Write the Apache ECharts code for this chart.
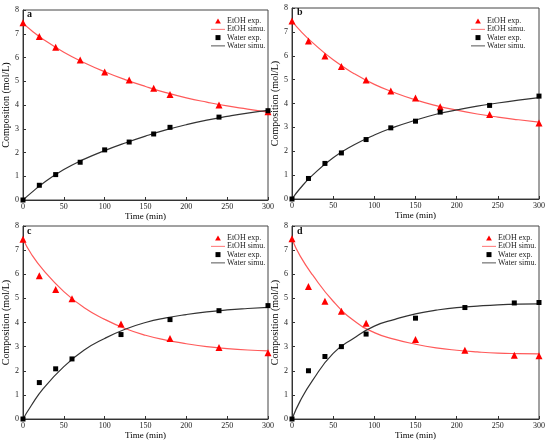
<!DOCTYPE html>
<html>
<head>
<meta charset="utf-8">
<script src="https://cdn.jsdelivr.net/npm/echarts@6/dist/echarts.min.js"></script>
<style>
  html, body { margin: 0; padding: 0; background: #fff; }
  #main { width: 550px; height: 446px; }
</style>
</head>
<body>
<div id="main"></div>
<script>
// experimental sampling times per panel
const timeA = [0, 20, 40, 70, 100, 130, 160, 180, 240, 300];
const timeB = [0, 20, 40, 60, 90, 120, 150, 180, 240, 300];
const timeC = [0, 20, 40, 60, 120, 180, 240, 300];
const timeD = [0, 20, 40, 60, 90, 150, 210, 270, 300];

// experimental points (mol/L)
const etohExpA = [7.46, 6.88, 6.43, 5.9, 5.39, 5.05, 4.71, 4.44, 4.0, 3.72];
const waterExpA = [0, 0.62, 1.07, 1.59, 2.11, 2.44, 2.78, 3.06, 3.49, 3.76];
const etohExpB = [7.46, 6.62, 5.99, 5.55, 4.98, 4.52, 4.23, 3.86, 3.54, 3.18];
const waterExpB = [0, 0.86, 1.49, 1.93, 2.49, 2.98, 3.26, 3.64, 3.92, 4.31];
const etohExpC = [7.45, 5.94, 5.37, 4.98, 3.94, 3.34, 2.96, 2.75];
const waterExpC = [0, 1.51, 2.08, 2.49, 3.5, 4.12, 4.49, 4.7];
const etohExpD = [7.47, 5.49, 4.88, 4.47, 3.97, 3.3, 2.85, 2.64, 2.62];
const waterExpD = [0, 2.0, 2.59, 3.0, 3.52, 4.18, 4.62, 4.81, 4.83];

// simulated curves
const simTime = [0, 10, 25, 50, 75, 100, 125, 150, 175, 200, 225, 250, 275, 300];
const etohSimA = [7.45, 7.15, 6.76, 6.22, 5.78, 5.4, 5.07, 4.78, 4.52, 4.3, 4.12, 3.96, 3.83, 3.7];
const waterSimA = [0, 0.3, 0.72, 1.28, 1.72, 2.08, 2.4, 2.69, 2.95, 3.17, 3.36, 3.52, 3.66, 3.77];
const etohSimB = [7.45, 7.05, 6.55, 5.83, 5.26, 4.8, 4.45, 4.15, 3.91, 3.72, 3.56, 3.43, 3.32, 3.22];
const waterSimB = [0, 0.45, 1.0, 1.73, 2.26, 2.68, 3.02, 3.3, 3.55, 3.73, 3.89, 4.02, 4.14, 4.25];
const etohSimC = [7.45, 6.85, 6.17, 5.28, 4.61, 4.13, 3.75, 3.47, 3.27, 3.12, 3.0, 2.92, 2.86, 2.82];
const waterSimC = [0, 0.55, 1.27, 2.17, 2.86, 3.34, 3.72, 4.0, 4.19, 4.33, 4.44, 4.52, 4.58, 4.63];
const etohSimD = [7.45, 6.75, 5.97, 4.88, 4.08, 3.58, 3.3, 3.1, 2.95, 2.85, 2.78, 2.73, 2.71, 2.7];
const waterSimD = [0, 0.75, 1.6, 2.72, 3.35, 3.85, 4.13, 4.36, 4.51, 4.62, 4.68, 4.73, 4.76, 4.77];

const xTicks = [0, 50, 100, 150, 200, 250, 300];
const yTicks = [0, 1, 2, 3, 4, 5, 6, 7, 8];

const panels = [
  { tag: 'a', t: timeA, ee: etohExpA, we: waterExpA, es: etohSimA, ws: waterSimA },
  { tag: 'b', t: timeB, ee: etohExpB, we: waterExpB, es: etohSimB, ws: waterSimB },
  { tag: 'c', t: timeC, ee: etohExpC, we: waterExpC, es: etohSimC, ws: waterSimC },
  { tag: 'd', t: timeD, ee: etohExpD, we: waterExpD, es: etohSimD, ws: waterSimD }
];

const grids = [
  { left: 21, top: 10, width: 247, height: 190 },
  { left: 292, top: 8, width: 247, height: 191 },
  { left: 21, top: 226, width: 247, height: 193 },
  { left: 292, top: 226, width: 247, height: 193 }
];
const legendPos = [
  { left: 211, top: 17 },
  { left: 471, top: 17 },
  { left: 211, top: 234 },
  { left: 482, top: 234 }
];
const tagPos = [
  { left: 27, top: 9 },
  { left: 297, top: 7 },
  { left: 27, top: 226 },
  { left: 297, top: 226 }
];

const font = 'Liberation Serif';
// legend entries, drawn with path icons so the markers keep their shape
const legendItems = [
  { name: 'EtOH exp.', icon: 'path://M3,0L6,5.2L0,5.2Z' },
  { name: 'EtOH simu.', icon: 'path://M0,0H20V1.2H0Z' },
  { name: 'Water exp.', icon: 'path://M0,0H1V1H0Z' },
  { name: 'Water simu.', icon: 'path://M0,0H20V1.2H0Z' }
];

const zip = (xs, ys) => xs.map((x, i) => [x, ys[i]]);

const xAxis = [], yAxis = [], series = [], legend = [], title = [];
panels.forEach((p, i) => {
  xAxis.push({
    gridIndex: i, type: 'value', min: 0, max: 300, interval: 50,
    name: 'Time (min)', nameLocation: 'middle', nameGap: 11,
    nameTextStyle: { fontFamily: font, fontSize: 9, color: '#000' },
    axisLine: { onZero: false, lineStyle: { color: '#333' } },
    axisTick: { inside: true, length: 3, lineStyle: { color: '#333' } },
    axisLabel: { fontFamily: font, fontSize: 8, color: '#222', margin: 3,
      formatter: v => xTicks.includes(v) ? String(v) : '' },
    splitLine: { show: false }
  });
  yAxis.push({
    gridIndex: i, type: 'value', min: 0, max: 8, interval: 1,
    name: 'Composition (mol/L)', nameLocation: 'middle', nameGap: 12,
    nameTextStyle: { fontFamily: font, fontSize: 10, color: '#000' },
    axisLine: { show: true, onZero: false, lineStyle: { color: '#333' } },
    axisTick: { show: true, inside: true, length: 3, lineStyle: { color: '#333' } },
    axisLabel: { fontFamily: font, fontSize: 8, color: '#222', margin: 4,
      formatter: v => yTicks.includes(v) ? String(v) : '' },
    splitLine: { show: false }
  });
  series.push(
    { name: 'EtOH simu.', type: 'line', xAxisIndex: i, yAxisIndex: i, smooth: true,
      symbol: 'none', data: zip(simTime, p.es), z: 2,
      lineStyle: { color: '#ff5a5a', width: 1.2 }, itemStyle: { color: '#ff5a5a' } },
    { name: 'Water simu.', type: 'line', xAxisIndex: i, yAxisIndex: i, smooth: true,
      symbol: 'none', data: zip(simTime, p.ws), z: 2,
      lineStyle: { color: '#333', width: 1.2 }, itemStyle: { color: '#333' } },
    { name: 'EtOH exp.', type: 'scatter', xAxisIndex: i, yAxisIndex: i,
      symbol: 'triangle', symbolSize: 7, data: zip(p.t, p.ee), z: 3,
      itemStyle: { color: '#ff0000', opacity: 1 } },
    { name: 'Water exp.', type: 'scatter', xAxisIndex: i, yAxisIndex: i,
      symbol: 'rect', symbolSize: 5, data: zip(p.t, p.we), z: 3,
      itemStyle: { color: '#000', opacity: 1 } }
  );
  legend.push(Object.assign({
    orient: 'vertical', data: legendItems, itemWidth: 14, itemHeight: 5, itemGap: 0.3,
    symbolKeepAspect: true,
    textStyle: { fontFamily: font, fontSize: 8, lineHeight: 8, color: '#222', padding: [0, 0, 0, -3] },
    padding: 0, selectedMode: false
  }, legendPos[i]));
  title.push(Object.assign({
    text: p.tag, padding: 0,
    textStyle: { fontFamily: font, fontSize: 10, fontWeight: 'bold', color: '#111' }
  }, tagPos[i]));
});

const chart = echarts.init(document.getElementById('main'));
chart.setOption({
  backgroundColor: '#fff',
  animation: false,
  title: title,
  legend: legend,
  grid: grids.map(g => Object.assign({ show: true, borderColor: '#444', borderWidth: 1, containLabel: false }, g)),
  xAxis: xAxis,
  yAxis: yAxis,
  series: series
});
</script>
</body>
</html>
